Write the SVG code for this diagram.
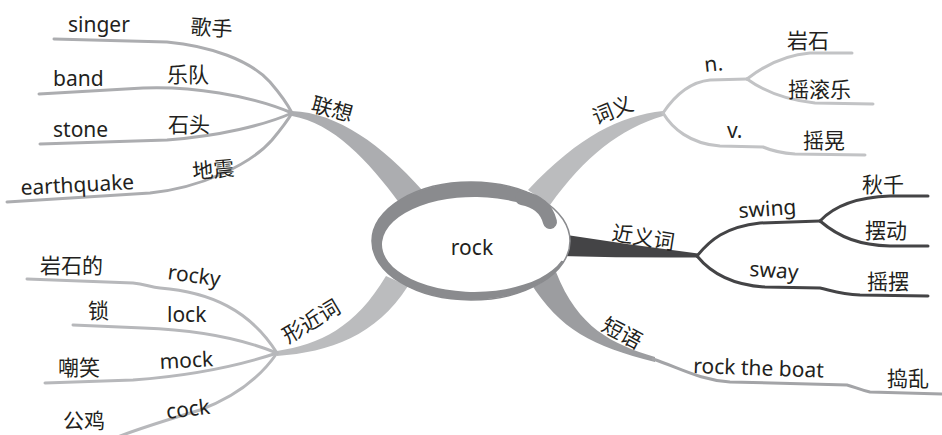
<svg xmlns="http://www.w3.org/2000/svg" width="942" height="435" viewBox="0 0 942 435">
<style>
.t{font-family:"Noto Sans","Noto Sans CJK SC",sans-serif;font-size:21px;fill:#231f20}
.c{font-family:"Noto Sans","Noto Sans CJK SC",sans-serif;font-size:21px;fill:#231f20}
.lx{fill:none;stroke:#acadb0;stroke-width:3;stroke-linecap:round}
.lc{fill:none;stroke:#c2c3c5;stroke-width:3;stroke-linecap:round}
.lj{fill:none;stroke:#444446;stroke-width:3;stroke-linecap:round}
.lf{fill:none;stroke:#b7b8bb;stroke-width:3;stroke-linecap:round}
.ld{fill:none;stroke:#a3a4a7;stroke-width:3;stroke-linecap:round}
</style>
<g id="connectors">
  <path d="M292,111 C338,113 382,145 422,190 L400,204 C368,160 333,123 292,116 Z" fill="#acadb0"/>
  <path d="M663,111 C620,116 580,135 528,190 L550,205 C585,156 620,129 663,116 Z" fill="#bbbcbe"/>
  <path d="M277,351 C320,344 355,328 386,276 L408,286 C376,336 330,352 277,356 Z" fill="#bbbcbe"/>
  <path d="M530,282 C560,330 592,346 655,362 L655,357 C612,344 578,328 556,272 Z" fill="#9c9da0"/>
  <path d="M560,234 Q630,245 698,253.5 L698,257.5 Q630,258 560,256 Z" fill="#444446"/>
  <path class="lx" d="M54,39 L167,42 C210,46 250,60 270,82 C282,96 288,105 292,113"/>
  <path class="lx" d="M39,94 L143,88 C190,86 250,95 292,113"/>
  <path class="lx" d="M40,144 L167,140 C220,136 265,125 292,113"/>
  <path class="lx" d="M7,202 L150,193 C200,188 250,165 272,140 C282,128 288,120 292,113"/>
  <path class="lc" d="M663,113 C675,95 690,82 710,80 L747,79"/>
  <path class="lc" d="M747,79 C765,65 785,55 810,53 L852,53"/>
  <path class="lc" d="M747,79 C765,92 785,100 815,103 L873,104"/>
  <path class="lc" d="M663,113 C672,128 690,144 720,146 L763,147 C770,150 780,153 795,154 L865,155"/>
  <path class="lj" d="M697,256 C710,240 725,227 760,223 L820,221"/>
  <path class="lj" d="M820,221 C835,205 860,197 890,196 L928,196"/>
  <path class="lj" d="M820,221 C840,238 860,245 890,246 L928,246"/>
  <path class="lj" d="M697,256 C710,272 730,285 765,287 L820,288 C830,290 840,294 860,295 L928,296"/>
  <path class="ld" d="M653,359 C680,368 700,380 730,382 L847,385 C855,387 860,390 870,392 L942,394"/>
  <path class="lf" d="M27,279 L133,283 C145,284 150,287 160,288 C210,292 250,310 277,353"/>
  <path class="lf" d="M73,325 L143,328 C200,330 245,340 277,353"/>
  <path class="lf" d="M45,383 L133,380 C200,375 250,362 277,353"/>
  <path class="lf" d="M115,438 C135,430 160,422 200,410 C240,395 262,375 277,353"/>
</g>
<g id="center">
  <ellipse cx="471" cy="241" rx="99" ry="59" fill="#ffffff" stroke="#8a8b8e" stroke-width="1.5"/>
  <path d="M549,204.7 A99 59 0 1 0 564,261.2 L561.4,260.7 A92.5 47.5 0 1 1 547.4,215.2 Z" fill="#8a8b8e"/>
  <path d="M522,198 Q545,202 550,222" fill="none" stroke="#8a8b8e" stroke-width="14" stroke-linecap="round"/>
  <text class="c" x="472" y="255" text-anchor="middle">rock</text>
</g>
<g id="lianxiang">
  <text class="t" transform="translate(310,111) rotate(15)">联想</text>
  <text class="t" x="68" y="32">singer</text>
  <text class="t" transform="translate(190,34) rotate(4)">歌手</text>
  <text class="t" x="53" y="86">band</text>
  <text class="t" x="167" y="82">乐队</text>
  <text class="t" x="53" y="137">stone</text>
  <text class="t" x="168" y="132">石头</text>
  <text class="t" transform="translate(21,195) rotate(-3)">earthquake</text>
  <text class="t" transform="translate(193,179) rotate(-5)">地震</text>
</g>
<g id="ciyi">
  <text class="t" transform="translate(596,125) rotate(-22)">词义</text>
  <text class="t" transform="translate(705,72) rotate(-6)">n.</text>
  <text class="t" x="787" y="48">岩石</text>
  <text class="t" x="788" y="97">摇滚乐</text>
  <text class="t" x="727" y="138">v.</text>
  <text class="t" x="803" y="148">摇晃</text>
</g>
<g id="jinyici">
  <text class="t" transform="translate(611,240) rotate(9)">近义词</text>
  <text class="t" transform="translate(739,218) rotate(-4)">swing</text>
  <text class="t" x="862" y="192">秋千</text>
  <text class="t" x="865" y="238">摆动</text>
  <text class="t" transform="translate(749,276) rotate(4)">sway</text>
  <text class="t" x="867" y="289">摇摆</text>
</g>
<g id="duanyu">
  <text class="t" transform="translate(600,330) rotate(28)">短语</text>
  <text class="t" transform="translate(693,373) rotate(2)">rock the boat</text>
  <text class="t" x="887" y="386">捣乱</text>
</g>
<g id="xingjinci">
  <text class="t" transform="translate(288,344) rotate(-31)">形近词</text>
  <text class="t" x="40" y="273">岩石的</text>
  <text class="t" transform="translate(167,279) rotate(8)">rocky</text>
  <text class="t" x="88" y="318">锁</text>
  <text class="t" x="167" y="322">lock</text>
  <text class="t" x="58" y="375">嘲笑</text>
  <text class="t" transform="translate(160,369) rotate(-3)">mock</text>
  <text class="t" x="63" y="428">公鸡</text>
  <text class="t" transform="translate(167,419) rotate(-7)">cock</text>
</g>
</svg>
